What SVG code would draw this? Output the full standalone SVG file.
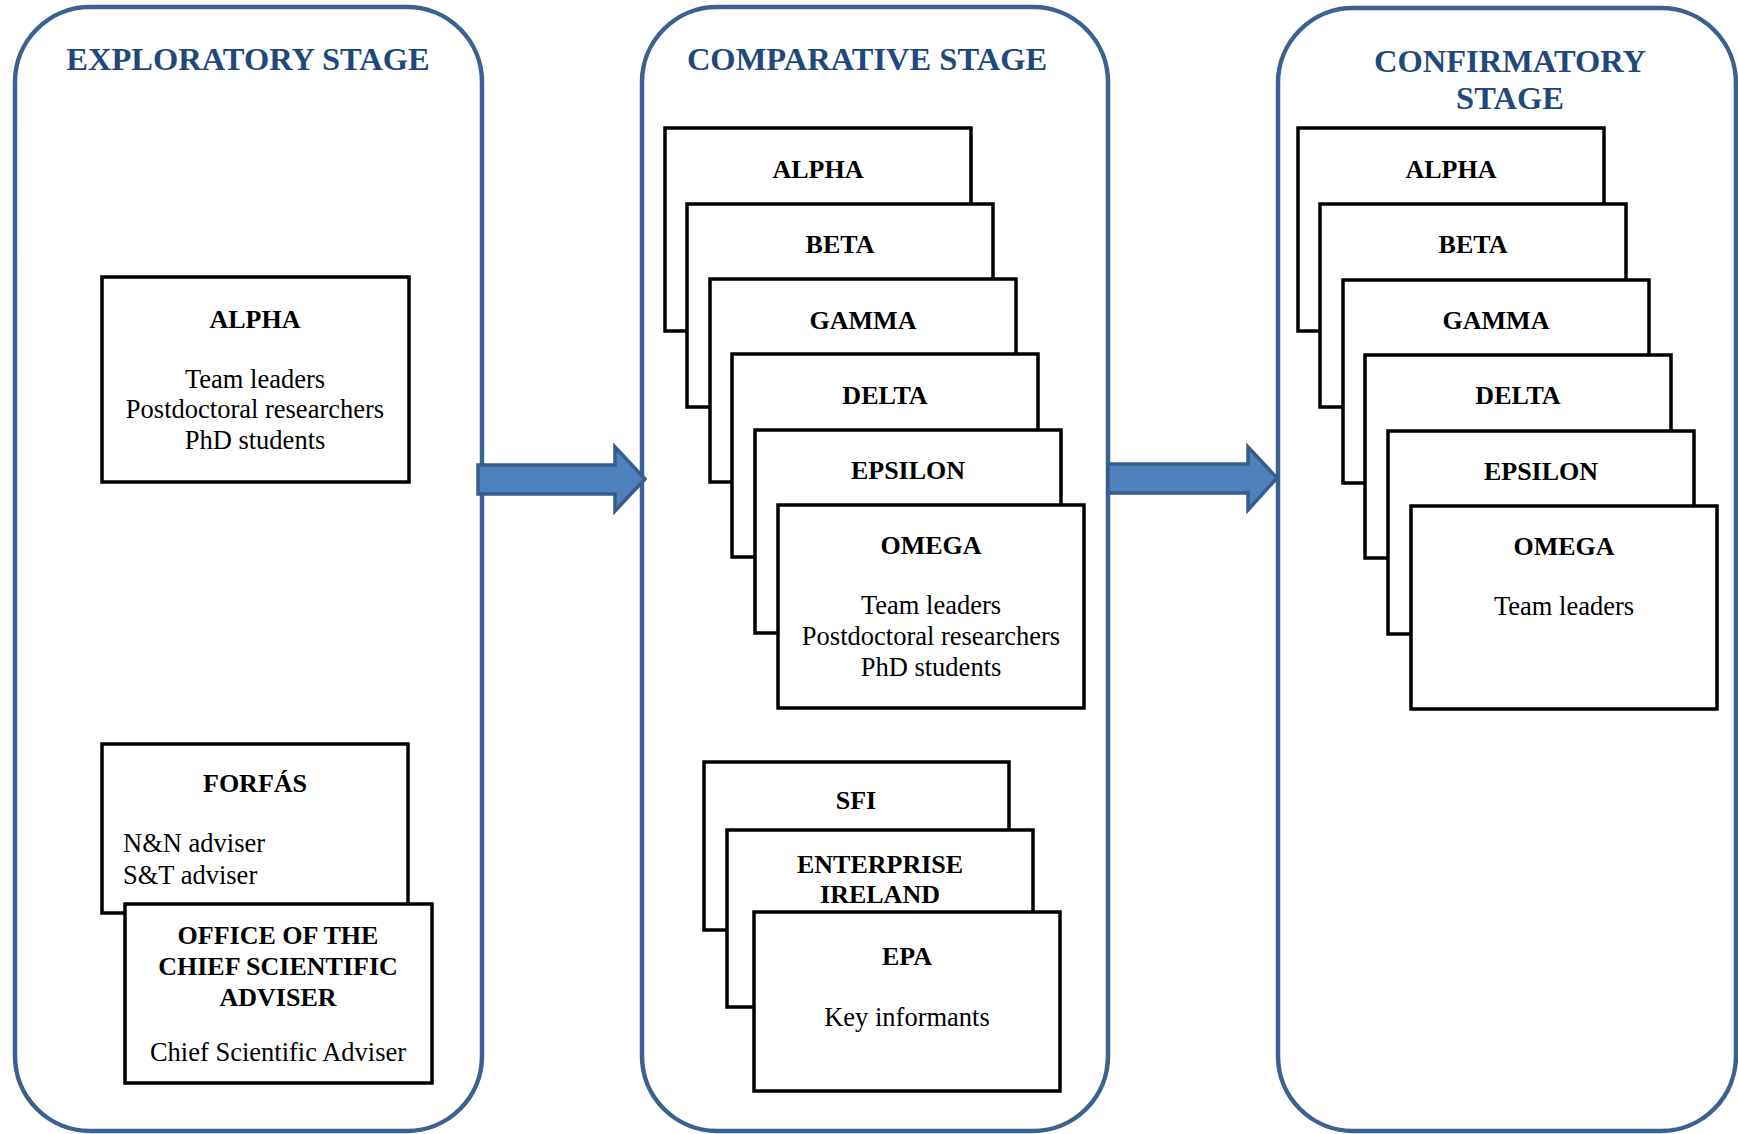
<svg xmlns="http://www.w3.org/2000/svg" width="1738" height="1134" viewBox="0 0 1738 1134">
<style>
.panel{fill:#fff;stroke:#3B6190;stroke-width:4.5}
.title{font-family:"Liberation Serif","Times New Roman",serif;font-weight:bold;font-size:32.5px;fill:#1F497D;text-anchor:middle}
.box{fill:#fff;stroke:#000;stroke-width:3.5}
.lbl{font-family:"Liberation Serif","Times New Roman",serif;font-weight:bold;font-size:26px;fill:#000;text-anchor:middle}
.txt{font-family:"Liberation Serif","Times New Roman",serif;font-size:26.5px;fill:#000;text-anchor:middle}
.txtl{font-family:"Liberation Serif","Times New Roman",serif;font-size:26.5px;fill:#000}
.arrow{fill:#4F81BD;stroke:#385D8A;stroke-width:3.5;stroke-linejoin:miter}
</style>
<rect width="1738" height="1134" fill="#fff"/>
<g id="stage-exploratory">
<rect class="panel" x="15" y="7" width="467" height="1124" rx="75" ry="75"/>
<text class="title" x="248" y="70">EXPLORATORY STAGE</text>
</g>
<g id="stage-comparative">
<rect class="panel" x="642" y="7" width="466" height="1124" rx="75" ry="75"/>
<text class="title" x="867" y="70">COMPARATIVE STAGE</text>
</g>
<g id="stage-confirmatory">
<rect class="panel" x="1278" y="8" width="458" height="1123" rx="75" ry="75"/>
<text class="title" x="1510" y="72">CONFIRMATORY</text>
<text class="title" x="1510" y="109">STAGE</text>
</g>
<g id="connectors">
<path class="arrow" d="M478,465 L615,465 L615,447 L645,479 L615,511 L615,494 L478,494 Z"/>
<path class="arrow" d="M1108,464 L1248,464 L1248,447 L1277,478 L1248,510 L1248,493 L1108,493 Z"/>
</g>
<g id="exp-alpha">
<rect class="box" x="102" y="277" width="307" height="205"/>
<text class="lbl" x="255" y="328">ALPHA</text>
<text class="txt" x="255" y="388">Team leaders</text>
<text class="txt" x="255" y="418">Postdoctoral researchers</text>
<text class="txt" x="255" y="449">PhD students</text>
</g>
<g id="exp-forfas">
<rect class="box" x="102" y="744" width="306" height="169"/>
<text class="lbl" x="255" y="792">FORFÁS</text>
<text class="txtl" x="123" y="852">N&amp;N adviser</text>
<text class="txtl" x="123" y="884">S&amp;T adviser</text>
</g>
<g id="exp-ocsa">
<rect class="box" x="125" y="904" width="307" height="179"/>
<text class="lbl" x="278" y="944">OFFICE OF THE</text>
<text class="lbl" x="278" y="975">CHIEF SCIENTIFIC</text>
<text class="lbl" x="278" y="1006">ADVISER</text>
<text class="txt" x="278" y="1061">Chief Scientific Adviser</text>
</g>
<g id="comp-alpha"><rect class="box" x="665" y="128" width="306" height="203"/><text class="lbl" x="818" y="178">ALPHA</text></g>
<g id="comp-beta"><rect class="box" x="687" y="204" width="306" height="203"/><text class="lbl" x="840" y="253">BETA</text></g>
<g id="comp-gamma"><rect class="box" x="710" y="279" width="306" height="203"/><text class="lbl" x="863" y="329">GAMMA</text></g>
<g id="comp-delta"><rect class="box" x="732" y="354" width="306" height="203"/><text class="lbl" x="885" y="404">DELTA</text></g>
<g id="comp-epsilon"><rect class="box" x="755" y="430" width="306" height="203"/><text class="lbl" x="908" y="479">EPSILON</text></g>
<g id="comp-omega">
<rect class="box" x="778" y="505" width="306" height="203"/>
<text class="lbl" x="931" y="554">OMEGA</text>
<text class="txt" x="931" y="614">Team leaders</text>
<text class="txt" x="931" y="645">Postdoctoral researchers</text>
<text class="txt" x="931" y="676">PhD students</text>
</g>
<g id="comp-sfi"><rect class="box" x="704" y="762" width="305" height="168"/><text class="lbl" x="856" y="809">SFI</text></g>
<g id="comp-ei">
<rect class="box" x="727" y="830" width="306" height="177"/>
<text class="lbl" x="880" y="873">ENTERPRISE</text>
<text class="lbl" x="880" y="903">IRELAND</text>
</g>
<g id="comp-epa">
<rect class="box" x="754" y="912" width="306" height="179"/>
<text class="lbl" x="907" y="965">EPA</text>
<text class="txt" x="907" y="1026">Key informants</text>
</g>
<g id="conf-alpha"><rect class="box" x="1298" y="128" width="306" height="203"/><text class="lbl" x="1451" y="178">ALPHA</text></g>
<g id="conf-beta"><rect class="box" x="1320" y="204" width="306" height="203"/><text class="lbl" x="1473" y="253">BETA</text></g>
<g id="conf-gamma"><rect class="box" x="1343" y="280" width="306" height="203"/><text class="lbl" x="1496" y="329">GAMMA</text></g>
<g id="conf-delta"><rect class="box" x="1365" y="355" width="306" height="203"/><text class="lbl" x="1518" y="404">DELTA</text></g>
<g id="conf-epsilon"><rect class="box" x="1388" y="431" width="306" height="203"/><text class="lbl" x="1541" y="480">EPSILON</text></g>
<g id="conf-omega">
<rect class="box" x="1411" y="506" width="306" height="203"/>
<text class="lbl" x="1564" y="555">OMEGA</text>
<text class="txt" x="1564" y="615">Team leaders</text>
</g>
</svg>
